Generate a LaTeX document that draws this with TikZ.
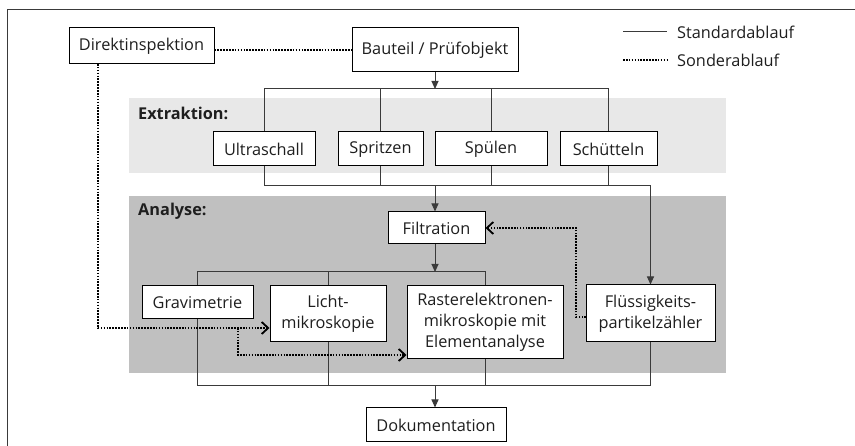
\documentclass[tikz,border=0pt]{standalone}
\usepackage{fontspec}
\setmainfont{Open Sans}
\usetikzlibrary{arrows.meta}
\definecolor{bandA}{HTML}{E8E8E8}
\definecolor{bandB}{HTML}{C0C0C0}
\definecolor{linec}{HTML}{3A3A3A}
\definecolor{textc}{HTML}{1E1E1E}
\begin{document}
\begin{tikzpicture}[x=1pt,y=-1pt,
  box/.style={draw=black, line width=1pt, fill=white, inner sep=0pt, align=center,
    font=\fontsize{16.3}{21}\selectfont, text=textc},
  flow/.style={draw=linec, line width=1pt},
  flowarrow/.style={flow, -{Triangle[length=8pt,width=7pt]}},
  special/.style={draw=black, line width=2pt, dash pattern=on 1.6pt off 1.3pt},
  specialarrow/.style={special, -{Straight Barb[length=6.5pt,width=12pt,line width=1.8pt]}},
  bandlabel/.style={anchor=west, inner sep=0pt, font=\bfseries\fontsize{16.3}{20}\selectfont, text=textc},
  legendtext/.style={anchor=west, inner sep=0pt, font=\fontsize{16.3}{20}\selectfont, text=textc}
]
\useasboundingbox (0,0) rectangle (855,446);

% bands
\fill[bandA] (129,98) rectangle (726,173);
\fill[bandB] (129,196) rectangle (726,373);
% frame
\draw[line width=1pt, draw=linec] (7,446) -- (7,10) -- (855,10);

% band labels
\node[bandlabel] (lex) at (138,113) {Extraktion:};
\node[bandlabel] (lan) at (138,211) {Analyse:};

% legend
\coordinate (ls1) at (623,32);
\coordinate (ls2) at (667,32);
\coordinate (ld1) at (623,60);
\coordinate (ld2) at (667,60);
\draw[flow] (ls1) -- (ls2);
\draw[special, line width=1.4pt] (ld1) -- (ld2);
\node[legendtext] (lt1) at (677,32) {Standardablauf};
\node[legendtext] (lt2) at (677,60) {Sonderablauf};

% nodes
\node[box, minimum width=145pt, minimum height=36pt] (dir) at (141.5,46) {Direktinspektion};
\node[box, minimum width=166pt, minimum height=44pt] (bau) at (435,50) {Bauteil / Prüfobjekt};

\node[box, minimum width=102pt, minimum height=34pt] (ultra) at (264,149) {Ultraschall};
\node[box, minimum width=85pt, minimum height=34pt] (spr) at (380.5,149) {Spritzen};
\node[box, minimum width=112pt, minimum height=34pt] (spu) at (491,149) {Spülen};
\node[box, minimum width=97pt, minimum height=34pt] (sch) at (608.5,149) {Schütteln};

\node[box, minimum width=97pt, minimum height=32pt] (filt) at (436.5,228) {Filtration};

\node[box, minimum width=111pt, minimum height=33pt] (grav) at (197.5,302.5) {Gravimetrie};
\node[box, minimum width=116pt, minimum height=56pt] (licht) at (328,314) {Licht-\\mikroskopie};
\node[box, minimum width=156pt, minimum height=73pt] (rast) at (485,322.5) {Rasterelektronen-\\mikroskopie mit\\Elementanalyse};
\node[box, minimum width=129pt, minimum height=57pt] (flu) at (650.5,313.5) {Flüssigkeits-\\partikelzähler};

\node[box, minimum width=140pt, minimum height=34pt] (doku) at (436,425) {Dokumentation};

% bus coordinates
\coordinate (b1) at (435,89);
\coordinate (b2) at (435,186);
\coordinate (b3) at (435,272);
\coordinate (b4) at (435,386);

% standard flow
\draw[flowarrow] (bau.south -| b1) -- (b1);
\draw[flow] (ultra.north) -- (ultra.north |- b1) -- (sch.north |- b1) -- (sch.north);
\draw[flow] (spr.north) -- (spr.north |- b1);
\draw[flow] (spu.north) -- (spu.north |- b1);

\draw[flow] (ultra.south) -- (ultra.south |- b2) -- (flu.north |- b2);
\draw[flowarrow] (flu.north |- b2) -- (flu.north);
\draw[flow] (spr.south) -- (spr.south |- b2);
\draw[flow] (spu.south) -- (spu.south |- b2);
\draw[flow] (sch.south) -- (sch.south |- b2);
\draw[flowarrow] (b2) -- (filt.north -| b2);

\draw[flowarrow] (filt.south -| b3) -- (b3);
\draw[flow] (grav.north) -- (grav.north |- b3) -- (rast.north |- b3) -- (rast.north);
\draw[flow] (licht.north) -- (licht.north |- b3);

\draw[flow] (grav.south) -- (grav.south |- b4) -- (flu.south |- b4) -- (flu.south);
\draw[flow] (licht.south) -- (licht.south |- b4);
\draw[flow] (rast.south) -- (rast.south |- b4);
\draw[flowarrow] (b4) -- (doku.north -| b4);

% special flow
\coordinate (d0) at (98,64);
\coordinate (d1) at (98,328);
\coordinate (d2) at (238,328);
\coordinate (d3) at (238,355);
\coordinate (f0) at (586,317);
\coordinate (f1) at (576,317);
\coordinate (f2) at (576,228);

\draw[special] (bau.west -| dir.east) -- (bau.west);
\draw[specialarrow] (d0) -- (d1) -- (licht.west |- d1);
\draw[specialarrow] (d2) -- (d3) -- (rast.west |- d3);
\draw[specialarrow] (f0) -- (f1) -- (f2) -- (filt.east |- f2);
\end{tikzpicture}
\end{document}
